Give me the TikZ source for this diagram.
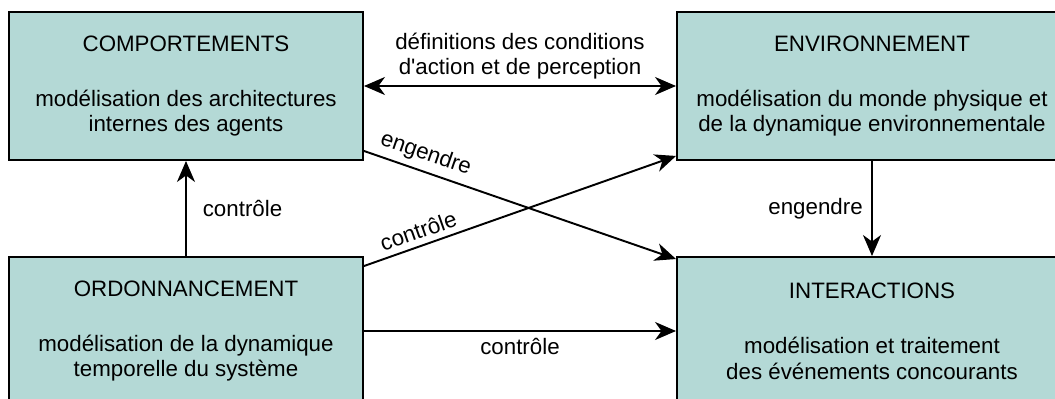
\documentclass[tikz,border=0pt]{standalone}
\usepackage{fontspec}
\setmainfont{Liberation Sans}
\usepackage{xcolor}
\definecolor{BlocFond}{HTML}{B4D9D6}
\definecolor{Trait}{HTML}{000000}
\usetikzlibrary{arrows.meta, positioning, calc}

\begin{document}
\begin{tikzpicture}[
  % styles de base
  bloc/.style={
    draw=Trait,
    fill=BlocFond,
    line width=1.1pt,
    minimum width=#1,
    minimum height=2.96cm,
    align=center,
    font=\fontsize{12.7}{14.5}\selectfont
  },
  bloc/.default=7.08cm,
  lbl/.style={
    font=\fontsize{12.7}{14.5}\selectfont,
    align=center
  },
  fleche/.style={
    draw=Trait,
    line width=1.1pt,
    ->,
    >={Stealth[length=4.2mm, width=3.6mm, inset=1.3mm]}
  }
]

% =============================================================================
% CADRE
% =============================================================================
\useasboundingbox (0,0) rectangle (21.1,7.96);

% =============================================================================
% BLOCS
% =============================================================================
\node[bloc] (comp) at (3.72,6.24) {COMPORTEMENTS\\[17pt]modélisation des architectures\\internes des agents};
\node[bloc=7.8cm] (envi) at (17.44,6.24) {ENVIRONNEMENT\\[17pt]modélisation du monde physique et\\de la dynamique environnementale};
\node[bloc] (ordo) at (3.72,1.34) {ORDONNANCEMENT\\[17pt]modélisation de la dynamique\\temporelle du système};
\node[bloc=7.8cm] (inter) at (17.44,1.34) {INTERACTIONS\\[17pt]modélisation et traitement\\des événements concourants};

% =============================================================================
% LIENS
% =============================================================================
\draw[fleche, <->] (comp.east) -- (envi.west)
  node[lbl, midway, above] {définitions des conditions\\d\textquotesingle action et de perception};
\draw[fleche] (ordo.north) -- (comp.south)
  node[lbl, midway, right=0.2cm] {contrôle};
\draw[fleche] (envi.south) -- (inter.north)
  node[lbl, midway, left=0.05cm] {engendre};
\draw[fleche] ($(comp.south east)+(0,0.2)$) -- ($(inter.north west)+(0,-0.06)$)
  node[lbl, pos=0.18, above, sloped] {engendre};
\draw[fleche] ($(ordo.north east)+(0,-0.2)$) -- ($(envi.south west)+(0,0.1)$)
  node[lbl, pos=0.19, above, sloped] {contrôle};
\draw[fleche] (ordo.east) -- (inter.west)
  node[lbl, midway, below] {contrôle};

\end{tikzpicture}
\end{document}
